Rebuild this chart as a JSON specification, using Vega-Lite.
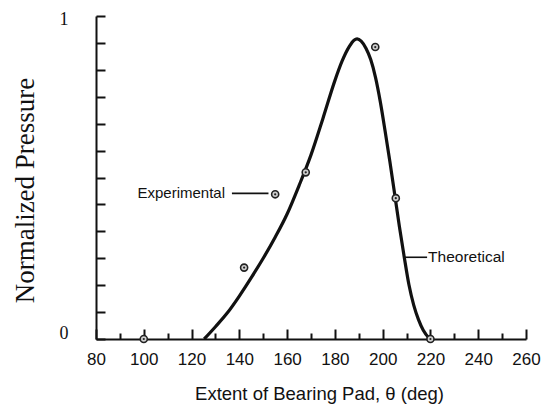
{
  "$schema": "https://vega.github.io/schema/vega-lite/v6.json",
  "width": 430,
  "height": 323,
  "autosize": {"type": "none"},
  "padding": {"left": 96, "top": 16, "right": 17, "bottom": 70},
  "background": "white",
  "config": {"view": {"stroke": null}},
  "datasets": {
    "theory": [
      {"deg": 125.3, "p": 0},
      {"deg": 130, "p": 0.038},
      {"deg": 135, "p": 0.081},
      {"deg": 140, "p": 0.133},
      {"deg": 145, "p": 0.19},
      {"deg": 150, "p": 0.25},
      {"deg": 155, "p": 0.315},
      {"deg": 160, "p": 0.387},
      {"deg": 165, "p": 0.475},
      {"deg": 170, "p": 0.57},
      {"deg": 175, "p": 0.683},
      {"deg": 180, "p": 0.8},
      {"deg": 183, "p": 0.86},
      {"deg": 186, "p": 0.905},
      {"deg": 188, "p": 0.925},
      {"deg": 189.3, "p": 0.929},
      {"deg": 191, "p": 0.922},
      {"deg": 193, "p": 0.9},
      {"deg": 195, "p": 0.865},
      {"deg": 197, "p": 0.81},
      {"deg": 199, "p": 0.735},
      {"deg": 201, "p": 0.645},
      {"deg": 203, "p": 0.55},
      {"deg": 205, "p": 0.45},
      {"deg": 207, "p": 0.348},
      {"deg": 209, "p": 0.255},
      {"deg": 211, "p": 0.168},
      {"deg": 213, "p": 0.105},
      {"deg": 215, "p": 0.06},
      {"deg": 217, "p": 0.027},
      {"deg": 219.7, "p": 0}
    ],
    "experimental": [
      {"deg": 100, "p": 0},
      {"deg": 142.0, "p": 0.221},
      {"deg": 155.0, "p": 0.448},
      {"deg": 167.8, "p": 0.516},
      {"deg": 196.9, "p": 0.904},
      {"deg": 205.5, "p": 0.436},
      {"deg": 220, "p": 0}
    ],
    "notes": [
      {"label": "Experimental", "deg": 134.0, "p": 0.451, "lineStart": 136.9, "lineEnd": 152.2},
      {"label": "Theoretical", "deg": 219.0, "p": 0.253, "lineStart": 208.9, "lineEnd": 218.6}
    ]
  },
  "encoding": {
    "x": {
      "field": "deg",
      "type": "quantitative",
      "scale": {"domain": [80, 260], "nice": false, "zero": false},
      "axis": {
        "values": [80, 90, 100, 110, 120, 130, 140, 150, 160, 170, 180, 190, 200, 210, 220, 230, 240, 250, 260],
        "labelExpr": "datum.value % 20 === 0 ? datum.label : ''",
        "title": "Extent of Bearing Pad, θ (deg)",
        "titleFont": "Liberation Sans",
        "titleFontSize": 18.5,
        "titleFontWeight": "normal",
        "titleColor": "#111",
        "titleX": 223,
        "titleY": 60,
        "titleBaseline": "alphabetic",
        "labelFont": "Liberation Sans",
        "labelFontSize": 17,
        "labelColor": "#111",
        "labelPadding": 22,
        "tickSize": {"condition": {"test": "datum.value % 20 === 0", "value": -10}, "value": -6},
        "tickColor": "#111",
        "tickWidth": 2,
        "domainColor": "#111",
        "domainWidth": 2,
        "grid": false,
        "labelFlush": false,
        "labelOverlap": false,
        "labelBound": false
      }
    },
    "y": {
      "field": "p",
      "type": "quantitative",
      "scale": {"domain": [0, 1], "nice": false, "zero": true},
      "axis": {
        "values": [0, 0.08333, 0.16667, 0.25, 0.33333, 0.41667, 0.5, 0.58333, 0.66667, 0.75, 0.83333, 0.91667, 1],
        "labelExpr": "datum.value === 0 ? '0' : (datum.value === 1 ? '1' : '')",
        "labelFont": "Liberation Serif",
        "labelFontSize": 18,
        "labelColor": "#111",
        "labelPadding": 37,
        "labelOffset": {"condition": {"test": "datum.value === 0", "value": -6}, "value": 3},
        "title": "Normalized Pressure",
        "titleFont": "Liberation Serif",
        "titleFontSize": 27,
        "titleFontWeight": "normal",
        "titleColor": "#111",
        "titleX": -63,
        "titleY": 174,
        "titleAngle": -90,
        "titleAlign": "center",
        "titleBaseline": "alphabetic",
        "tickSize": -9,
        "tickColor": "#111",
        "tickWidth": 2,
        "domainColor": "#111",
        "domainWidth": 2,
        "grid": false,
        "labelOverlap": false,
        "labelBound": false
      }
    }
  },
  "layer": [
    {
      "data": {"name": "theory"},
      "mark": {"type": "line", "interpolate": "monotone", "color": "#111", "strokeWidth": 3.2}
    },
    {
      "data": {"name": "experimental"},
      "mark": {"type": "circle", "size": 50, "fill": "#cfcfcf", "stroke": "#222", "strokeWidth": 1.6, "opacity": 1}
    },
    {
      "data": {"name": "experimental"},
      "mark": {"type": "circle", "size": 5, "fill": "#222", "opacity": 1}
    },
    {
      "data": {"name": "notes"},
      "mark": {"type": "rule", "color": "#111", "strokeWidth": 1.6},
      "encoding": {
        "x": {"field": "lineStart", "type": "quantitative"},
        "x2": {"field": "lineEnd"}
      }
    },
    {
      "data": {"name": "notes"},
      "transform": [{"filter": "datum.label === 'Experimental'"}],
      "mark": {"type": "text", "align": "right", "baseline": "middle", "font": "Liberation Sans", "fontSize": 15, "color": "#111"},
      "encoding": {"text": {"field": "label"}}
    },
    {
      "data": {"name": "notes"},
      "transform": [{"filter": "datum.label === 'Theoretical'"}],
      "mark": {"type": "text", "align": "left", "baseline": "middle", "font": "Liberation Sans", "fontSize": 15.5, "color": "#111"},
      "encoding": {"text": {"field": "label"}}
    }
  ]
}
